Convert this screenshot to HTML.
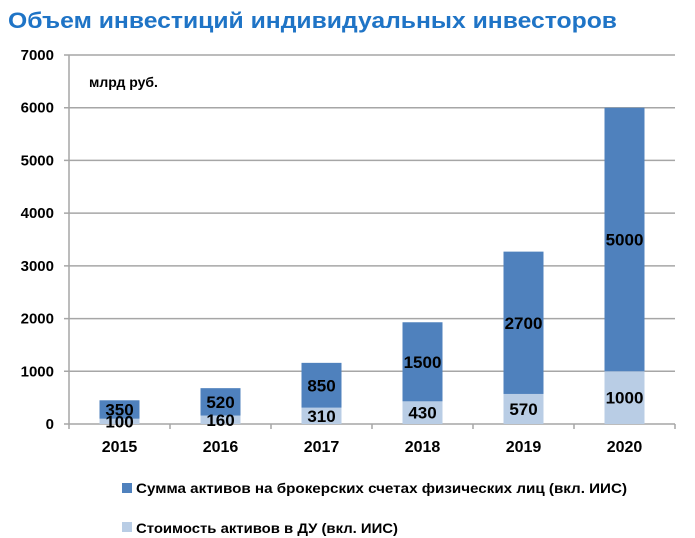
<!DOCTYPE html>
<html><head><meta charset="utf-8"><style>
html,body{margin:0;padding:0;background:#fff;}
svg{display:block;font-family:"Liberation Sans",sans-serif;}
</style></head><body>
<svg id="chart" width="695" height="538">
<text x="8" y="28" font-size="22" font-weight="bold" fill="#1f74c6" textLength="609" lengthAdjust="spacingAndGlyphs">Объем инвестиций индивидуальных инвесторов</text>
<text x="89" y="87" font-size="14" font-weight="bold" fill="#000">млрд руб.</text>
<g id="grid"></g><g id="bars"></g><g id="axes"></g>
<g>
<rect x="122" y="483" width="10" height="10" fill="#4f81bd"/>
<text x="136" y="493" font-size="14" font-weight="bold" textLength="491" lengthAdjust="spacingAndGlyphs">Сумма активов на брокерских счетах физических лиц (вкл. ИИС)</text>
<rect x="122" y="522" width="10" height="10" fill="#b9cde5"/>
<text x="136" y="533" font-size="14" font-weight="bold" textLength="262" lengthAdjust="spacingAndGlyphs">Стоимость активов в ДУ (вкл. ИИС)</text>
</g>
</svg>
<script>
const categories = ["2015","2016","2017","2018","2019","2020"];
const trustValues = [100,160,310,430,570,1000];
const brokerValues = [350,520,850,1500,2700,5000];
const yTicks = [0,1000,2000,3000,4000,5000,6000,7000];
const NS="http://www.w3.org/2000/svg";
const x0=69, x1=675, yBase=424, yTop=55, yMax=7000;
const bw=(x1-x0)/categories.length, barW=40;
function y(v){return yBase-(v/yMax)*(yBase-yTop);}
function xc(i){return x0+bw*i+bw/2;}
function mk(tag,attrs,parent,txt){const e=document.createElementNS(NS,tag);for(const k in attrs)e.setAttribute(k,attrs[k]);if(txt!==undefined)e.textContent=txt;parent.appendChild(e);return e;}
const grid=document.getElementById('grid'),bars=document.getElementById('bars'),axes=document.getElementById('axes');
yTicks.forEach(t=>{
  const l=mk('line',{x1:x0-5,x2:x1,y1:y(t),y2:y(t),stroke:'#a6a6a6','stroke-width':1.5},grid);
  
  
  const tx=mk('text',{x:54,y:y(t)+5,'text-anchor':'end','font-size':15,'font-weight':'bold'},axes,t);
  
  
});
const ax=mk('line',{x1:x0,x2:x0,y1:yTop,y2:yBase+5,stroke:'#a6a6a6','stroke-width':1.5},axes);


for(let i=1;i<=categories.length;i++){
  const t=mk('line',{x1:x0+bw*i,x2:x0+bw*i,y1:yBase,y2:yBase+5,stroke:'#a6a6a6','stroke-width':1.5},axes);
  
  
}
categories.forEach((c,i)=>{
  const cx=xc(i), a=trustValues[i], b=brokerValues[i];
  const r1=mk('rect',{x:cx-barW/2,y:y(a),width:barW,height:yBase-y(a),fill:'#b9cde5'},bars);
  
  
  const r2=mk('rect',{x:cx-barW/2,y:y(a+b),width:barW,height:y(a)-y(a+b),fill:'#4f81bd'},bars);
  
  
  const l1=mk('text',{x:cx,y:y(a/2)+6,'text-anchor':'middle','font-size':17,'font-weight':'bold'},bars,a);
  
  
  const l2=mk('text',{x:cx,y:y(a+b/2)+6,'text-anchor':'middle','font-size':17,'font-weight':'bold'},bars,b);
  
  
  const xl=mk('text',{x:cx,y:452,'text-anchor':'middle','font-size':16,'font-weight':'bold'},axes,c);
  
  
});
</script>
</body></html>
